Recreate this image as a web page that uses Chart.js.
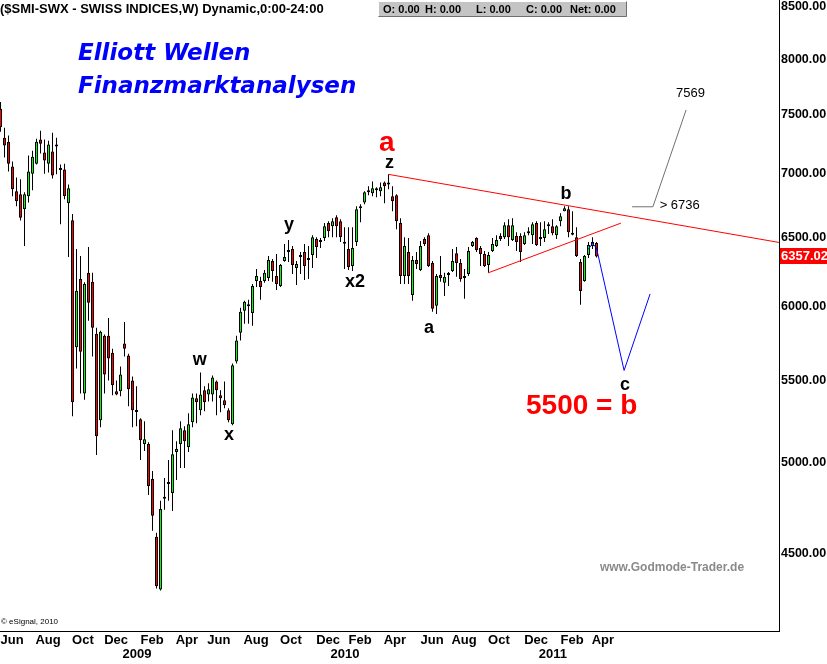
<!DOCTYPE html>
<html><head><meta charset="utf-8">
<script src="https://cdn.jsdelivr.net/npm/chart.js@4"></script>
<style>html,body{margin:0;padding:0;background:#fff;}canvas{display:block;}</style>
</head><body>
<canvas id="c" width="827" height="664"></canvas>
<script>
// Weekly SMI candles (index 0 = late May 2008, last = late March 2011)
const opens = [7550,7300,7266,7060,6858,6835,6716,6820,7000,7083,7284,7175,7083,7183,7242,7035,7035,6763,6631,5720,
6193,5420,6237,6172,5810,5253,5797,5797,5683,5433,5433,5744,5664,5503,5308,5259,5110,5110,4906,4587,
4313,4799,4878,4827,5062,5110,5193,5092,5241,5389,5315,5440,5414,5414,5496,5408,5377,5315,5229,5625,
5817,5967,6000,5953,6179,6179,6179,6200,6324,6215,6143,6324,6390,6412,6272,6353,6390,6331,6368,6487,
6470,6495,6609,6585,6655,6624,6457,6412,6287,6465,6740,6770,6866,6843,6866,6858,6930,6914,6820,6827,
6609,6215,6390,6079,6331,6258,6487,6517,6309,6002,6222,6165,6222,6251,6382,6309,6200,6229,6436,6495,
6420,6375,6294,6397,6436,6510,6502,6593,6480,6510,6510,6450,6532,6517,6609,6487,6495,6585,6585,6517,
6624,6700,6716,6525,6502,6316,6179,6368,6436,6457];
const highs = [7610,7386,7320,7100,6970,6955,6851,7150,7190,7292,7360,7284,7275,7343,7300,7075,7083,6914,6680,6412,
6360,6170,6427,6237,5850,5830,5805,5918,5710,5503,5593,5890,5677,5528,5465,5265,5247,5121,4952,4608,
4783,4912,5015,5193,5127,5247,5217,5296,5420,5420,5554,5465,5484,5535,5503,5440,5496,5327,5612,5797,
5988,6037,6044,6157,6265,6208,6258,6360,6338,6375,6301,6450,6480,6436,6324,6390,6450,6436,6517,6502,
6495,6609,6624,6647,6670,6639,6577,6577,6577,6740,6755,6858,6898,6938,6890,6930,6938,6995,6898,6835,
6647,6502,6495,6360,6390,6472,6502,6532,6324,6229,6360,6237,6244,6412,6427,6338,6265,6427,6472,6502,
6436,6397,6390,6495,6517,6532,6616,6639,6647,6540,6532,6540,6577,6616,6624,6616,6624,6616,6639,6593,
6686,6740,6740,6700,6577,6338,6368,6465,6502,6465];
const lows = [7350,7134,7019,6820,6740,6630,6436,6770,6866,7075,7167,7000,7010,6962,6995,6600,6795,6353,5278,5580,
5420,5380,5898,5658,5045,5211,5420,5503,5408,5408,5402,5658,5340,5211,5217,5015,5068,4816,4619,4319,
4308,4733,4783,4727,4900,4969,4969,5062,5211,5235,5284,5308,5370,5370,5284,5302,5327,5241,5223,5612,
5764,5878,5878,5864,6136,6044,6165,6179,6172,6114,6136,6318,6316,6229,6150,6229,6186,6193,6272,6345,
6420,6472,6502,6502,6502,6465,6265,6258,6251,6436,6616,6755,6827,6820,6812,6820,6763,6874,6700,6562,
6157,6157,6157,6037,6265,6251,6436,6280,5960,5946,6172,6072,6143,6244,6208,6172,6051,6215,6427,6390,
6287,6280,6237,6390,6427,6472,6487,6436,6472,6397,6316,6442,6517,6450,6436,6436,6465,6525,6517,6487,
6585,6700,6502,6517,6353,6009,6172,6345,6412,6350];
const closes = [7390,7234,7083,6874,6780,6650,6835,7019,7140,7266,7250,7109,7242,6986,7225,7030,6820,6882,5364,6108,
5690,6157,6023,5850,5157,5824,5540,5645,5472,5414,5540,5710,5446,5315,5304,5133,5139,4866,4700,4330,
4738,4795,4882,5050,5080,5205,5127,5229,5395,5364,5414,5364,5446,5522,5440,5389,5346,5253,5600,5764,
5960,6030,6004,6143,6215,6136,6237,6331,6251,6157,6294,6353,6394,6294,6301,6357,6287,6345,6502,6427,
6466,6585,6547,6624,6585,6502,6453,6280,6420,6716,6724,6851,6851,6882,6870,6890,6898,6918,6780,6624,
6215,6436,6215,6331,6301,6436,6450,6287,5981,6215,6200,6208,6226,6324,6309,6193,6204,6397,6465,6405,
6375,6287,6368,6450,6480,6487,6593,6502,6593,6465,6390,6517,6536,6600,6442,6495,6562,6589,6532,6585,
6663,6724,6540,6521,6360,6107,6360,6442,6465,6357.02];

// X axis: month labels and the week index where each sits; year labels
const monthLabels = ['Jun','Aug','Oct','Dec','Feb','Apr','Jun','Aug','Oct','Dec','Feb','Apr','Jun','Aug','Oct','Dec','Feb','Apr'];
const monthWeeks  = [2.9,11.9,20.6,28.9,37.9,46.6,54.6,63.9,72.6,81.9,89.9,98.6,107.9,115.9,124.6,133.9,142.9,150.6];
const yearLabels = ['2009','2010','2011'];
const yearWeeks  = [34.1,86.1,138.1];
// Y axis ticks (log scale)
const yTicks = [4500,5000,5500,6000,6500,7000,7500,8000,8500];

// Drawn studies (week index, price)
const upperTrend = [{x:97,y:6995},{x:194.6,y:6462}];
const lowerTrend = [{x:121.9,y:6237},{x:155.1,y:6609}];
const projection = [{x:147,y:6412},{x:148,y:6455},{x:149,y:6420},{x:155.9,y:5567},{x:162.4,y:6086}];
const targetLine = [{x:157.9,y:6736},{x:163.1,y:6736},{x:171.4,y:7540}];

// Wave labels (text, week index, price at baseline)
const waveLabels = [
  {t:'a', x:96.6, y:7192, f:'bold 28px "Liberation Sans", Arial, sans-serif', c:'#ff0000'},
  {t:'z', x:97.25, y:7050, f:'bold 18px "Liberation Sans", Arial, sans-serif', c:'#000'},
  {t:'y', x:72.1, y:6555, f:'bold 18px "Liberation Sans", Arial, sans-serif', c:'#000'},
  {t:'x2', x:88.6, y:6136, f:'bold 18px "Liberation Sans", Arial, sans-serif', c:'#000'},
  {t:'w', x:49.8, y:5600, f:'bold 18px "Liberation Sans", Arial, sans-serif', c:'#000'},
  {t:'x', x:57.1, y:5133, f:'bold 18px "Liberation Sans", Arial, sans-serif', c:'#000'},
  {t:'a', x:107.1, y:5818, f:'bold 18px "Liberation Sans", Arial, sans-serif', c:'#000'},
  {t:'b', x:141.4, y:6795, f:'bold 18px "Liberation Sans", Arial, sans-serif', c:'#000'},
  {t:'c', x:156.1, y:5439, f:'bold 18px "Liberation Sans", Arial, sans-serif', c:'#000'},
  {t:'7569', x:172.5, y:7655, f:'13px "Liberation Sans", Arial, sans-serif', c:'#000'},
  {t:'> 6736', x:169.8, y:6716, f:'13px "Liberation Sans", Arial, sans-serif', c:'#000'},
  {t:'5500 = b', x:145.3, y:5290, f:'bold 28px "Liberation Sans", Arial, sans-serif', c:'#ff0000'}
];

const N = closes.length;
const wickData = [], bodyData = [], bodyColors = [];
for (let i = 0; i < N; i++) {
  wickData.push({x:i, y:[lows[i], highs[i]]});
  bodyData.push({x:i, y:[opens[i], closes[i]]});
  bodyColors.push(closes[i] >= opens[i] ? '#00ff00' : '#ff0000');
}
const xTicks = monthWeeks.map((w,i)=>({value:w, label:monthLabels[i]}))
  .concat(yearWeeks.map((w,i)=>({value:w, label:['', yearLabels[i]]})))
  .sort((a,b)=>a.value-b.value);

const FONT = '"Liberation Sans", Arial, sans-serif';

const overlay = {
  id:'overlay',
  afterDraw(chart){
    const ctx = chart.ctx, xs = chart.scales.x, ys = chart.scales.y;
    ctx.save();
    // header
    ctx.fillStyle = '#000'; ctx.textBaseline = 'alphabetic'; ctx.textAlign = 'left';
    ctx.font = 'bold 13px ' + FONT;
    ctx.fillText('($SMI-SWX - SWISS INDICES,W) Dynamic,0:00-24:00', 0, 13);
    // OHLC box
    ctx.fillStyle = '#c4c4c4'; ctx.fillRect(378, 1, 249, 16);
    ctx.strokeStyle = '#ffffff'; ctx.lineWidth = 1;
    ctx.beginPath(); ctx.moveTo(378.5, 16.5); ctx.lineTo(378.5, 1.5); ctx.lineTo(626.5, 1.5); ctx.stroke();
    ctx.strokeStyle = '#707070';
    ctx.beginPath(); ctx.moveTo(378.5, 16.5); ctx.lineTo(626.5, 16.5); ctx.lineTo(626.5, 1.5); ctx.stroke();
    ctx.fillStyle = '#000'; ctx.font = 'bold 11px ' + FONT;
    [['O: 0.00',383],['H: 0.00',425],['L: 0.00',476],['C: 0.00',526],['Net: 0.00',570]].forEach(([t,x])=>ctx.fillText(t, x, 13));
    // title
    ctx.fillStyle = '#0000ff'; ctx.font = 'italic bold 23px "DejaVu Sans", Verdana, sans-serif';
    ctx.fillText('Elliott Wellen', 78, 60);
    ctx.fillText('Finanzmarktanalysen', 78, 93);
    // watermark / copyright
    ctx.fillStyle = '#8a8a8a'; ctx.font = 'bold 12px ' + FONT; ctx.textAlign = 'center';
    ctx.fillText('www.Godmode-Trader.de', 672, 571);
    ctx.fillStyle = '#000'; ctx.font = '8px ' + FONT; ctx.textAlign = 'left';
    ctx.fillText('\u00a9 eSignal, 2010', 1, 624);
    // wave labels
    ctx.textAlign = 'center';
    waveLabels.forEach(l=>{
      ctx.font = l.f; ctx.fillStyle = l.c;
      ctx.fillText(l.t, xs.getPixelForValue(l.x), ys.getPixelForValue(l.y));
    });
    // last price tag
    const last = closes[N-1];
    const py = ys.getPixelForValue(last);
    ctx.fillStyle = '#ff0000'; ctx.fillRect(chart.chartArea.right + 1, Math.round(py) - 8, 60, 16);
    ctx.fillStyle = '#fff'; ctx.font = 'bold 13px ' + FONT; ctx.textAlign = 'left'; ctx.textBaseline = 'middle';
    ctx.fillText(last.toFixed(2), chart.chartArea.right + 2, Math.round(py) + 0.5);
    ctx.restore();
  }
};

const lineDs = (data, color) => ({type:'line', data, borderColor:color, borderWidth:1, pointRadius:0, tension:0, fill:false, order:0});

new Chart(document.getElementById('c'), {
  type:'bar',
  data:{datasets:[
    {data:wickData, backgroundColor:'#000', borderWidth:0, grouped:false, barPercentage:1, categoryPercentage:1, maxBarThickness:1, inflateAmount:0, order:2},
    {data:bodyData, backgroundColor:bodyColors, borderColor:'#000', borderWidth:1, borderSkipped:false, grouped:false, barPercentage:1, categoryPercentage:1, maxBarThickness:3, minBarLength:2, inflateAmount:0, order:1},
    lineDs(upperTrend, '#ff0000'),
    lineDs(lowerTrend, '#ff0000'),
    lineDs(projection, '#0000ff'),
    lineDs(targetLine, '#707070')
  ]},
  options:{
    responsive:false, animation:false, devicePixelRatio:1,
    layout:{padding:0},
    plugins:{legend:{display:false}, tooltip:{enabled:false}},
    scales:{
      x:{type:'linear', offset:false, min:-0.125, max:194.625, bounds:'data', position:'bottom',
        grid:{display:false, drawTicks:false, offset:false}, border:{display:true, color:'#000', width:1},
        afterBuildTicks:s=>{s.ticks = xTicks.map(t=>({value:t.value}));},
        afterFit:s=>{s.height = 33; s.paddingLeft = 0; s.paddingRight = 0;},
        ticks:{autoSkip:false, maxRotation:0, minRotation:0, padding:2, color:'#000',
          font:{family:FONT, size:13, weight:'bold', lineHeight:1.1},
          callback:(v,i)=>xTicks[i].label}
      },
      y:{type:'logarithmic', position:'right', min:4110, max:8570, bounds:'data',
        grid:{display:false, drawTicks:false}, border:{display:true, color:'#000', width:1},
        afterBuildTicks:s=>{s.ticks = yTicks.map(v=>({value:v}));},
        afterFit:s=>{s.width = 48; s.paddingTop = 0; s.paddingBottom = 0;},
        ticks:{autoSkip:false, padding:2, color:'#000',
          font:{family:FONT, size:12.5, weight:'bold'},
          callback:v=>Number(v).toFixed(2)}
      }
    }
  },
  plugins:[overlay]
});
</script>
</body></html>
